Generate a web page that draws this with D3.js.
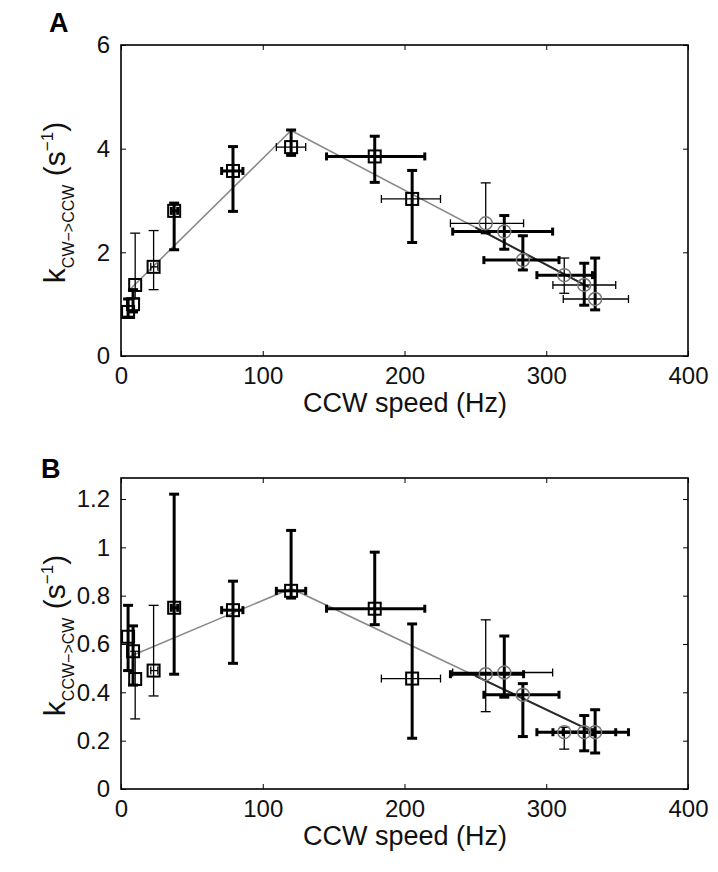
<!DOCTYPE html>
<html><head><meta charset="utf-8">
<script src="https://cdn.jsdelivr.net/npm/d3@7/dist/d3.min.js"></script>
<style>
body{margin:0;background:#fff;}
svg{display:block;font-family:"Liberation Sans",Arial,sans-serif;}
</style></head>
<body><div id="chart"></div>
<script>
// CCW speed (Hz) with horizontal error ranges (shared by both panels)
const speed    = [5, 8.5, 10, 23, 37.5, 79, 120, 179, 205.4, 257.3, 270.4, 283.5, 312.7, 326.8, 334.5];
const speedLo  = [null, null, null, 21, 35.5, 71, 109.6, 145, 183.7, 232.4, 234, 256, 293.4, 304.7, 312];
const speedHi  = [null, null, null, 26, 40, 86, 130.3, 214.3, 225.4, 284, 304.5, 309, 332.6, 349, 358];
const marker   = ["sq","sq","sq","sq","sq","sq","sq","sq","sq","ci","ci","ci","ci","ci","ci"];

// Panel A: k CW->CCW (s^-1)
const kA   = [0.85, 1.0, 1.37, 1.72, 2.8, 3.57, 4.03, 3.85, 3.03, 2.56, 2.4, 1.85, 1.56, 1.37, 1.1];
const kALo = [0.75, 0.85, 1.1, 1.28, 2.05, 2.79, 3.87, 3.35, 2.19, 2.36, 2.06, 1.66, 1.21, 0.98, 0.89];
const kAHi = [1.1, 1.28, 2.37, 2.42, 2.95, 4.04, 4.36, 4.24, 3.58, 3.34, 2.71, 2.32, 1.89, 1.79, 1.89];
const fitAx = [5, 120, 330];
const fitAy = [1.25, 4.35, 1.33];

// Panel B: k CCW->CW (s^-1)
const kB   = [0.63, 0.57, 0.455, 0.49, 0.75, 0.74, 0.82, 0.746, 0.457, 0.475, 0.482, 0.39, 0.235, 0.235, 0.235];
const kBLo = [0.49, 0.43, 0.29, 0.385, 0.475, 0.52, 0.79, 0.68, 0.21, 0.32, 0.38, 0.217, 0.165, 0.158, 0.149];
const kBHi = [0.76, 0.675, 0.57, 0.76, 1.22, 0.86, 1.07, 0.98, 0.683, 0.70, 0.633, 0.436, 0.255, 0.304, 0.328];
const fitBx = [5, 120, 330];
const fitBy = [0.545, 0.83, 0.245];

const xTicks  = [0, 100, 200, 300, 400];
const yTicksA = [0, 2, 4, 6];
const yTicksB = [0, 0.2, 0.4, 0.6, 0.8, 1, 1.2];

// styles (thick = bold error bar)
const yThickA = [1,1,0,0,1,1,1,1,1,0,1,1,0,1,1];
const xThickA = [0,0,0,0,1,1,0,1,0,0,1,1,1,0,0];
const yThickB = [1,1,0,0,1,1,1,1,1,0,1,1,0,1,1];
const xThickB = [0,0,0,0,1,1,1,1,0,1,0,1,1,1,1];

const W = 718, H = 872;
const svg = d3.select("#chart").append("svg").attr("width", W).attr("height", H);

function panel(cfg){
  const g = svg.append("g");
  const x = d3.scaleLinear().domain([0,400]).range([121,688]);
  const y = d3.scaleLinear().domain(cfg.ydom).range(cfg.yrange);
  const top = cfg.top, bot = cfg.yrange[0];

  // axes
  const ax = g.append("g").attr("transform",`translate(0,${bot})`)
    .call(d3.axisBottom(x).tickValues(xTicks).tickSize(-5).tickPadding(11).tickFormat(d3.format("d")));
  const axT = g.append("g").attr("transform",`translate(0,${top})`)
    .call(d3.axisTop(x).tickValues(xTicks).tickSize(-5).tickFormat(""));
  const ay = g.append("g").attr("transform",`translate(121,0)`)
    .call(d3.axisLeft(y).tickValues(cfg.yticks).tickSize(-5).tickPadding(11).tickFormat(d => d3.format("~g")(d)));
  const ayR = g.append("g").attr("transform",`translate(688,0)`)
    .call(d3.axisRight(y).tickValues(cfg.yticks).tickSize(-5).tickFormat(""));
  [ax,axT,ay,ayR].forEach(a=>{
    a.select(".domain").remove();
    a.selectAll(".tick line").attr("stroke","#000").attr("stroke-width",1);
    a.selectAll("text").attr("font-size",24).attr("fill","#111").attr("font-family","Liberation Sans, Arial, sans-serif");
  });
  g.append("rect").attr("x",121).attr("y",top).attr("width",688-121).attr("height",bot-top)
    .attr("fill","none").attr("stroke","#000").attr("stroke-width",1.6);

  // fit line
  const pts = cfg.fx.map((v,i)=>[x(v), y(cfg.fy[i])]);
  g.append("path").attr("d", d3.line()(pts)).attr("fill","none").attr("stroke","#8a8a8a").attr("stroke-width",1.6);
  // darker overlay on circle region
  const t0 = 250, p1 = cfg.fx[1], p2 = cfg.fx[2];
  const yAt = v => cfg.fy[1] + (cfg.fy[2]-cfg.fy[1])*(v-p1)/(p2-p1);
  g.append("path").attr("d", d3.line()([[x(t0),y(yAt(t0))],[x(p2),y(yAt(p2))]]))
    .attr("fill","none").attr("stroke","#2a2a2a").attr("stroke-width",2);

  // error bars
  const eb = g.append("g");
  speed.forEach((s,i)=>{
    const cx = x(s), cy = y(cfg.v[i]);
    const yw = cfg.yThick[i] ? 3 : 1.3;
    const y1 = y(cfg.lo[i]), y2 = y(cfg.hi[i]);
    eb.append("line").attr("x1",cx).attr("x2",cx).attr("y1",y1).attr("y2",y2).attr("stroke","#000").attr("stroke-width",yw);
    [y1,y2].forEach(yy=> eb.append("line").attr("x1",cx-5).attr("x2",cx+5).attr("y1",yy).attr("y2",yy).attr("stroke","#000").attr("stroke-width",yw));
    if (speedLo[i]!==null){
      const xw = cfg.xThick[i] ? 3 : 1.3;
      const x1 = x(speedLo[i]), x2 = x(speedHi[i]);
      eb.append("line").attr("x1",x1).attr("x2",x2).attr("y1",cy).attr("y2",cy).attr("stroke","#000").attr("stroke-width",xw);
      [x1,x2].forEach(xx=> eb.append("line").attr("x1",xx).attr("x2",xx).attr("y1",cy-4).attr("y2",cy+4).attr("stroke","#000").attr("stroke-width",xw));
    }
  });
  // markers
  speed.forEach((s,i)=>{
    const cx = x(s), cy = y(cfg.v[i]);
    if (marker[i]==="sq"){
      g.append("rect").attr("x",cx-6).attr("y",cy-6).attr("width",12).attr("height",12)
        .attr("fill","none").attr("stroke","#000").attr("stroke-width",2);
    } else {
      g.append("circle").attr("cx",cx).attr("cy",cy).attr("r",6.5)
        .attr("fill","none").attr("stroke","#777").attr("stroke-width",1.5);
    }
  });

  // x title
  g.append("text").attr("x",405).attr("y",bot+56).attr("text-anchor","middle")
    .attr("font-size",27).attr("fill","#111").text("CCW speed (Hz)");
  // y title
  const yt = g.append("text").attr("transform",`translate(65,${(top+bot)/2+2}) rotate(-90)`)
    .attr("text-anchor","middle").attr("fill","#111").attr("font-size",30);
  yt.append("tspan").text("k");
  yt.append("tspan").attr("font-size",16).attr("dy",9).text(cfg.sub);
  yt.append("tspan").attr("dy",-9).text(" (s");
  yt.append("tspan").attr("font-size",17).attr("dy",-12).text("−1");
  yt.append("tspan").attr("dy",12).text(")");
  // panel label
  g.append("text").attr("x",cfg.lx).attr("y",cfg.ly).attr("font-size",27).attr("font-weight","bold")
    .attr("fill","#000").text(cfg.label);
}

panel({ydom:[0,6], yrange:[356,45], top:45, yticks:yTicksA, v:kA, lo:kALo, hi:kAHi,
  fx:fitAx, fy:fitAy, yThick:yThickA, xThick:xThickA, sub:"CW−>CCW", label:"A", lx:49, ly:32});
panel({ydom:[0,1.2], yrange:[789,499], top:478, yticks:yTicksB, v:kB, lo:kBLo, hi:kBHi,
  fx:fitBx, fy:fitBy, yThick:yThickB, xThick:xThickB, sub:"CCW−>CW", label:"B", lx:41, ly:478});
</script></body></html>
